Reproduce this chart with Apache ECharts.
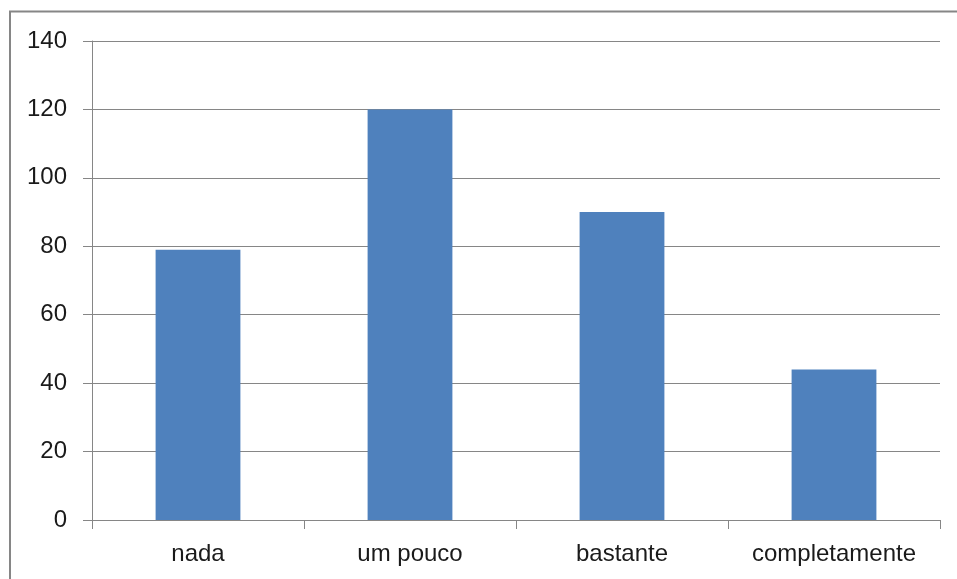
<!DOCTYPE html>
<html><head><meta charset="utf-8">
<script src="https://cdn.jsdelivr.net/npm/echarts@6/dist/echarts.min.js"></script>
<style>html,body{margin:0;padding:0;background:#fff;}#c{width:957px;height:579px;}</style>
</head><body><div id="c"></div>
<script>
const categories = ['nada', 'um pouco', 'bastante', 'completamente'];
const values = [79, 120, 90, 44];
const yTicks = [0, 20, 40, 60, 80, 100, 120, 140];

const chart = echarts.init(document.getElementById('c'), null, {renderer: 'canvas'});
chart.setOption({
  animation: false,
  backgroundColor: '#ffffff',
  graphic: [{
    type: 'rect', z: -1,
    shape: {x: 10, y: 11.5, width: 1000, height: 1000},
    style: {fill: 'none', stroke: '#868686', lineWidth: 2}
  }],
  grid: {left: 92, right: 17, top: 41, bottom: 59, containLabel: false},
  xAxis: {
    type: 'category', data: categories, boundaryGap: true,
    axisLine: {lineStyle: {color: '#868686', width: 1}},
    axisTick: {show: true, length: 9, inside: false, interval: 0, lineStyle: {color: '#868686'}},
    axisLabel: {color: '#1a1a1a', fontSize: 24, fontFamily: 'Liberation Sans', margin: 22, interval: 0}
  },
  yAxis: {
    type: 'value', min: yTicks[0], max: yTicks[yTicks.length - 1], interval: 20,
    axisLine: {show: true, lineStyle: {color: '#868686', width: 1}},
    axisTick: {show: true, length: 9, lineStyle: {color: '#868686'}},
    splitLine: {show: true, lineStyle: {color: '#868686', width: 1}},
    axisLabel: {color: '#1a1a1a', fontSize: 24, fontFamily: 'Liberation Sans', margin: 25}
  },
  series: [{
    type: 'bar', data: values, barWidth: '40%',
    itemStyle: {color: '#4F81BD'}
  }]
});
</script></body></html>
